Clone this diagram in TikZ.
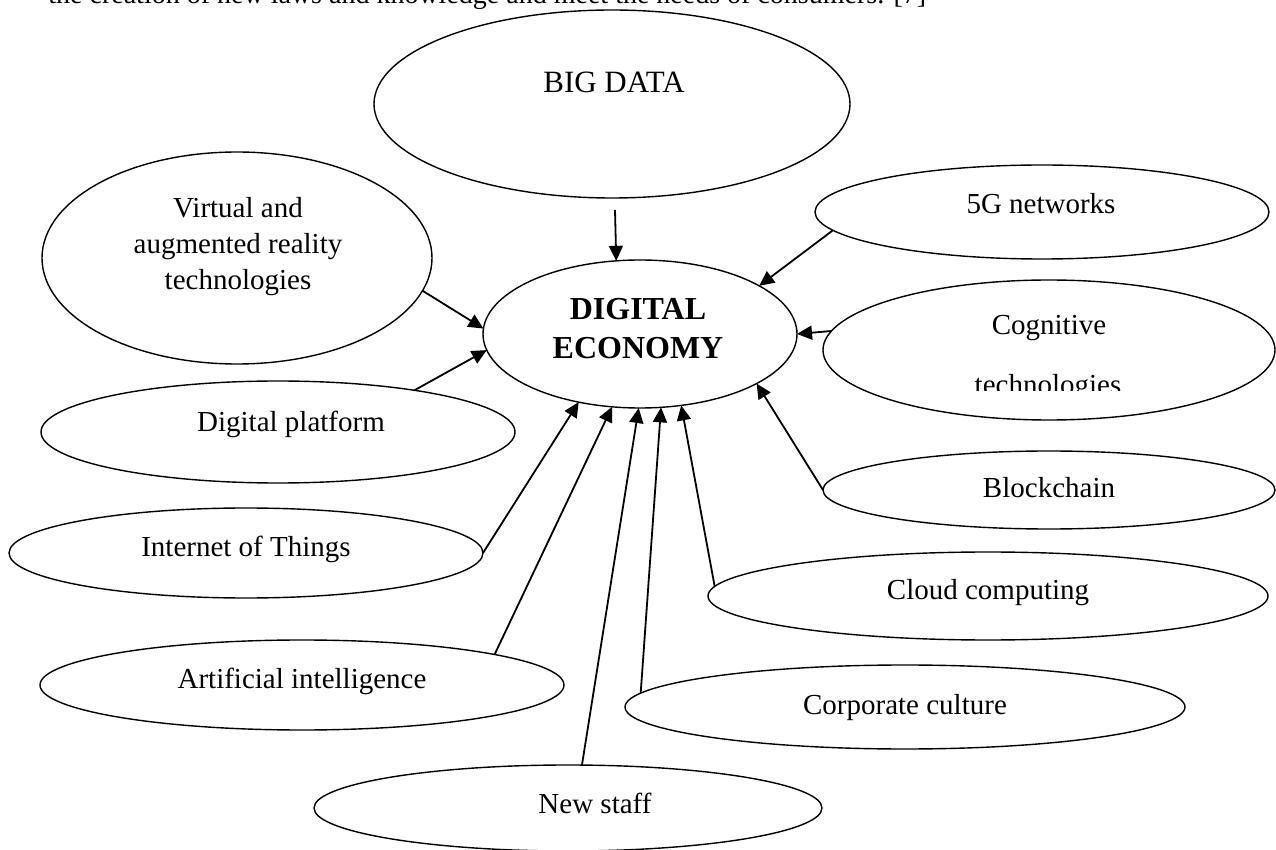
\documentclass[tikz,border=0pt]{standalone}
\usepackage{fontspec}
\setmainfont{Liberation Serif}
\usetikzlibrary{shapes.geometric,arrows.meta}
\begin{document}
\begin{tikzpicture}[x=0.5pt,y=-0.5pt,
  ell/.style={ellipse,draw,line width=0.7pt,inner sep=0pt,outer sep=0pt},
  txt/.style={anchor=base,inner sep=0pt,font=\fontsize{14.5}{17}\selectfont},
  arr/.style={line width=0.9pt,-{Triangle[length=7.5pt,width=7pt]}}]
\fill[white] (0,0) rectangle (1276,850);
\useasboundingbox (0,0) rectangle (1276,850);
% partially visible line of body text
\node[txt,anchor=base west,font=\fontsize{14}{17}\selectfont] (top) at (48,4) {the creation of new laws and knowledge and meet the needs of consumers. [7]};
% ellipses
\node[ell,minimum width=238pt,minimum height=94pt] (bd) at (612,104) {};
\node[ell,minimum width=195pt,minimum height=106pt] (vr) at (237,258) {};
\node[ell,minimum width=157pt,minimum height=74pt] (de) at (640,334) {};
\node[ell,minimum width=227pt,minimum height=47pt] (g5) at (1042,212) {};
\node[ell,minimum width=226pt,minimum height=70pt] (cog) at (1049,350) {};
\node[ell,minimum width=226pt,minimum height=39pt] (bc) at (1049,490) {};
\node[ell,minimum width=280pt,minimum height=44pt] (cc) at (988,596) {};
\node[ell,minimum width=280pt,minimum height=42pt] (corp) at (905,707) {};
\node[ell,minimum width=254pt,minimum height=43pt] (ns) at (568,808) {};
\node[ell,minimum width=262pt,minimum height=45pt] (ai) at (302,685) {};
\node[ell,minimum width=237pt,minimum height=45pt] (iot) at (246,553) {};
\node[ell,minimum width=237pt,minimum height=51pt] (dp) at (278,432) {};
% texts
\node[txt,font=\fontsize{15.5}{18}\selectfont] (bdt) at (614,93) {BIG DATA};
\node[txt] (vrt1) at (238,218) {Virtual and};
\node[txt] (vrt2) at (238,254) {augmented reality};
\node[txt] (vrt3) at (238,290) {technologies};
\node[txt,font=\fontsize{16}{19}\selectfont\bfseries] (det1) at (638,320) {DIGITAL};
\node[txt,font=\fontsize{16}{19}\selectfont\bfseries] (det2) at (638,359) {ECONOMY};
\node[txt] (g5t) at (1041,214) {5G networks};
\node[txt] (cogt1) at (1049,335) {Cognitive};
\begin{scope}
\clip (830,340) rectangle (1270,391);
\node[txt] (cogt2) at (1048,395) {technologies};
\end{scope}
\node[txt] (bct) at (1049,497) {Blockchain};
\node[txt] (cct) at (988,599) {Cloud computing};
\node[txt] (corpt) at (905,714) {Corporate culture};
\node[txt] (nst) at (595,813) {New staff};
\node[txt] (ait) at (302,688) {Artificial intelligence};
\node[txt] (iott) at (246,557) {Internet of Things};
\node[txt] (dpt) at (291,432) {Digital platform};
% connectors
\draw[arr] ([shift={(3,12)}]bd.south) -- (de.108.9);
\draw[arr] (g5.185.4) -- (de.22);
\draw[arr] (cog.175.3) -- (de.0.8);
\draw[arr] (bc.180) -- (de.-23);
\draw[arr] (cc.178.8) -- (de.-60.5);
\draw[arr] (corp.177.4) -- (de.-74.3);
\draw[arr] (ns.72) -- (de.-91.5);
\draw[arr] (ai.9.6) -- (de.-111.5);
\draw[arr] (iot.0.7) -- (de.-132.3);
\draw[arr] (dp.17.4) -- (de.186.7);
\draw[arr] (vr.-10.6) -- (de.178.5);
\end{tikzpicture}
\end{document}
